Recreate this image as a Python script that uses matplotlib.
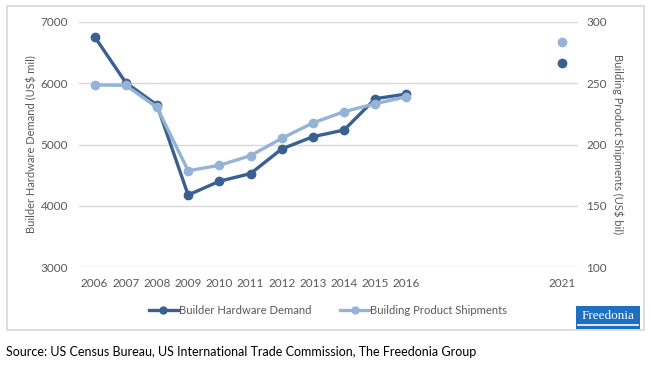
import matplotlib.pyplot as plt
from matplotlib.patches import Rectangle
from matplotlib.lines import Line2D
import numpy as np

plt.rcParams['font.family'] = ['Lato', 'DejaVu Sans']

# data
years = list(range(2006, 2022))
tick_years = [2006, 2007, 2008, 2009, 2010, 2011, 2012, 2013, 2014, 2015, 2016, 2021]
hardware = [6760, 6010, 5645, 4175, 4400, 4525, 4927, 5127, 5237, 5748, 5824,
            None, None, None, None, 6326]
shipments = [248.6, 248.3, 230.3, 178.6, 183.0, 190.9, 205.0, 217.6, 226.8, 233.3, 239.0,
             None, None, None, None, 283.4]

dark = '#3A5F91'
light = '#95B3D7'
grey = '#595959'

hw = np.array([np.nan if v is None else v for v in hardware], dtype=float)
sh = np.array([np.nan if v is None else v for v in shipments], dtype=float)

fig = plt.figure(figsize=(6.53, 3.66), dpi=100)
fig.patches.append(Rectangle((7 / 653, 1 - 330 / 366), 637 / 653, 324 / 366,
                             transform=fig.transFigure, fill=False,
                             edgecolor='#D9D9D9', linewidth=1.2))

ax = fig.add_axes([79 / 653, 1 - 267 / 366, 499 / 653, 245 / 366])
ax2 = ax.twinx()

ax.plot(years, hw, color=dark, linewidth=2.4, marker='o', markersize=6)
ax2.plot(years, sh, color=light, linewidth=2.4, marker='o', markersize=6)

ax.set_xlim(2005.5, 2021.5)
ax.set_ylim(3000, 7000)
ax2.set_ylim(100, 300)
ax.set_yticks(range(3000, 7001, 1000))
ax2.set_yticks(range(100, 301, 50))
ax.set_xticks(tick_years)
ax.set_xticklabels([str(y) for y in tick_years])

ax.grid(axis='y', color='#D9D9D9', linewidth=1)
ax.set_axisbelow(True)
for a in (ax, ax2):
    for s in a.spines.values():
        s.set_visible(False)
    a.tick_params(length=0, labelsize=8.5, labelcolor=grey)
ax.tick_params(axis='y', pad=8)
ax.tick_params(axis='x', pad=8)
ax2.tick_params(axis='y', pad=6)

ax.set_ylabel('Builder Hardware Demand (US$ mil)', fontsize=8, color=grey, labelpad=2)
ax2.set_ylabel('Building Product Shipments (US$ bil)', fontsize=8, color=grey,
               rotation=-90, labelpad=12)

# legend handles with smaller markers, like the Excel legend
h1 = Line2D([], [], color=dark, linewidth=2.4, marker='o', markersize=5)
h2 = Line2D([], [], color=light, linewidth=2.4, marker='o', markersize=5)
fig.legend(handles=[h1, h2], labels=['Builder Hardware Demand', 'Building Product Shipments'],
           loc='center', bbox_to_anchor=(328 / 653, 1 - 310 / 366),
           ncol=2, frameon=False, fontsize=8.1, labelcolor=grey,
           handlelength=2.6, columnspacing=2.6, handletextpad=0.05)

# Freedonia logo
fig.patches.append(Rectangle((576 / 653, 1 - 329 / 366), 64 / 653, 23 / 366,
                             transform=fig.transFigure, facecolor='#1F6FC0',
                             edgecolor='none'))
fig.lines.append(Line2D([578 / 653, 638 / 653], [1 - 324.5 / 366, 1 - 324.5 / 366],
                        transform=fig.transFigure, color='white', linewidth=1.2))
fig.text(608 / 653, 1 - 316 / 366, 'Freedonia', color='white', fontsize=9.5,
         family='Liberation Serif', ha='center', va='center')

fig.text(6 / 653, 1 - 352 / 366,
         'Source: US Census Bureau, US International Trade Commission, The Freedonia Group',
         fontsize=9, color='black', ha='left', va='center')

fig.savefig('out.png', dpi=100)
